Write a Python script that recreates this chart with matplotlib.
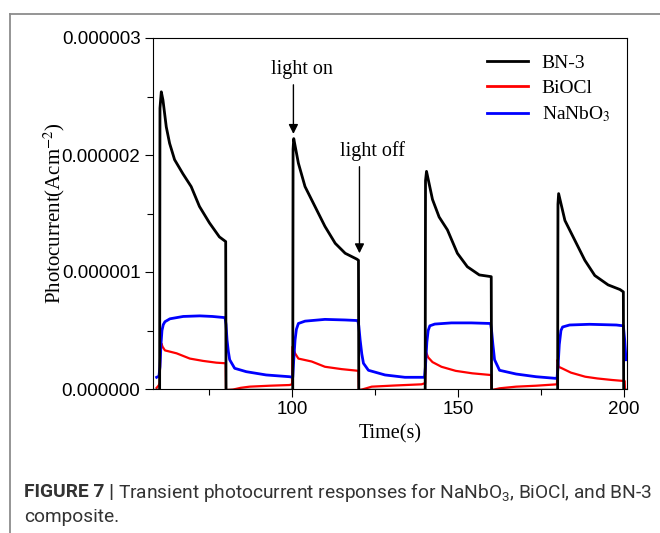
import matplotlib
matplotlib.use("Agg")
import matplotlib.pyplot as plt
from matplotlib.lines import Line2D
from matplotlib.ticker import MultipleLocator, FormatStrFormatter

# values, current in units of 1e-6 A/cm^2
bn3_t = [58.9, 60.1, 60.2, 60.6, 61.1, 62.1, 63.1, 64.6, 67.1, 69.6, 72.1, 75.1, 78.1, 80.0, 80.1,
         100.2, 100.3, 100.5, 101.9, 103.9, 106.9, 109.9, 113.0, 116.0, 119.5, 120.0, 120.1,
         140.1, 140.2, 140.5, 142.3, 144.3, 146.8, 149.8, 152.8, 156.4, 160.0, 160.1,
         180.0, 180.1, 180.3, 182.2, 185.2, 188.2, 191.2, 195.2, 198.8, 199.8, 199.9, 200.8]
bn3_i = [-0.01, -0.01, 2.40, 2.54, 2.47, 2.24, 2.10, 1.96, 1.84, 1.73, 1.56, 1.42, 1.30, 1.26, -0.01,
         -0.01, 2.05, 2.14, 1.93, 1.73, 1.56, 1.39, 1.245, 1.16, 1.11, 1.10, -0.01,
         -0.01, 1.78, 1.86, 1.62, 1.47, 1.36, 1.16, 1.045, 0.975, 0.96, -0.01,
         -0.01, 1.58, 1.67, 1.44, 1.27, 1.10, 0.97, 0.89, 0.85, 0.83, -0.01, -0.01]

biocl_t = [59.2, 59.8, 60.1, 60.3, 60.6, 61.0, 61.7, 65.2, 69.2, 73.2, 77.2, 80.0, 80.1,
           82.2, 84.5, 87.2, 93.2, 99.2, 100.0, 100.1, 100.9, 101.9, 105.9, 109.9, 114.9,
           119.4, 120.0, 120.1, 121.0, 124.0, 131.0, 139.0, 140.1, 140.3, 141.0, 142.3,
           145.0, 149.3, 154.3, 159.7, 160.0, 160.1, 162.5, 167.5, 173.5, 179.8, 180.0,
           180.3, 181.3, 184.0, 188.3, 192.0, 196.4, 200.2, 200.3]
biocl_i = [0.01, 0.03, 0.05, 0.30, 0.39, 0.36, 0.33, 0.305, 0.26, 0.24, 0.225, 0.22, -0.01,
           -0.005, 0.01, 0.02, 0.028, 0.034, 0.04, 0.36, 0.305, 0.26, 0.235, 0.19, 0.17,
           0.157, 0.155, -0.01, -0.005, 0.02, 0.03, 0.04, 0.05, 0.32, 0.27, 0.23,
           0.19, 0.155, 0.134, 0.12, 0.12, -0.01, 0.006, 0.02, 0.028, 0.04, 0.25,
           0.19, 0.177, 0.14, 0.105, 0.09, 0.077, 0.068, -0.01]

nanbo3_t = [59.2, 59.9, 60.2, 60.5, 60.8, 61.2, 61.7, 63.2, 67.2, 72.2, 76.0, 79.8, 80.1,
            80.4, 80.8, 81.2, 82.7, 86.2, 92.2, 99.2, 100.2, 100.5, 100.9, 101.3, 101.9,
            103.9, 109.9, 116.0, 119.8, 120.1, 120.5, 121.0, 121.5, 123.0, 128.0, 134.0,
            139.9, 140.2, 140.6, 141.0, 141.5, 143.0, 148.0, 154.0, 159.8, 160.1, 160.5,
            161.0, 162.5, 167.5, 173.5, 179.8, 180.1, 180.5, 181.0, 181.5, 183.6, 189.6,
            197.7, 199.8, 200.2, 200.6]
nanbo3_i = [0.10, 0.11, 0.19, 0.38, 0.50, 0.55, 0.575, 0.60, 0.62, 0.625, 0.62, 0.61, 0.55,
            0.42, 0.32, 0.25, 0.177, 0.148, 0.12, 0.105, 0.10, 0.25, 0.42, 0.51, 0.56,
            0.58, 0.595, 0.59, 0.585, 0.54, 0.42, 0.30, 0.22, 0.16, 0.12, 0.10,
            0.10, 0.20, 0.40, 0.50, 0.54, 0.555, 0.565, 0.565, 0.56, 0.50, 0.38,
            0.25, 0.16, 0.128, 0.105, 0.09, 0.18, 0.38, 0.50, 0.53, 0.547, 0.553,
            0.547, 0.54, 0.42, 0.25]

x_ticks = [100, 150, 200]

plt.rcParams["mathtext.fontset"] = "custom"
plt.rcParams["mathtext.rm"] = "Roboto"
plt.rcParams["mathtext.it"] = "Roboto:italic"
plt.rcParams["mathtext.bf"] = "Roboto:bold"

SERIF = "Liberation Serif"
SANS = "Liberation Sans"

fig = plt.figure(figsize=(6.6, 5.33), dpi=100)
ax = fig.add_axes([153 / 660, 1 - 389 / 533, 474 / 660, 351 / 533])

scale = 1e-6
ax.plot(biocl_t, [v * scale for v in biocl_i], color="#ff0000", lw=1.6, zorder=2)
ax.plot(nanbo3_t, [v * scale for v in nanbo3_i], color="#0000ff", lw=2.0, zorder=3)
ax.plot(bn3_t, [v * scale for v in bn3_i], color="black", lw=2.0, zorder=4)

ax.set_xlim(58.1, 200.9)
ax.set_ylim(0, 3e-6)
ax.set_xticks(x_ticks)
ax.xaxis.set_minor_locator(MultipleLocator(25))
ax.yaxis.set_major_locator(MultipleLocator(1e-6))
ax.yaxis.set_minor_locator(MultipleLocator(0.5e-6))
ax.yaxis.set_major_formatter(FormatStrFormatter("%.6f"))
ax.tick_params(which="major", direction="out", length=6, width=0.8, pad=3,
               labelsize=13.5, colors="black")
ax.tick_params(which="minor", direction="out", length=4, width=0.8)
for lab in ax.get_xticklabels() + ax.get_yticklabels():
    lab.set_fontfamily(SANS)
for sp in ax.spines.values():
    sp.set_linewidth(0.8)

ax.set_xlabel("Time(s)", fontfamily=SERIF, fontsize=14.5, labelpad=4)
ax.set_ylabel("Photocurrent(Acm$^{-2}$)", fontfamily=SERIF, fontsize=15,
              math_fontfamily="stix", labelpad=-4)

handles = [Line2D([], [], color="black", lw=2.0),
           Line2D([], [], color="#ff0000", lw=2.0),
           Line2D([], [], color="#0000ff", lw=2.0)]
ax.legend(handles, ["BN-3", "BiOCl", "NaNbO$_3$"], loc="upper right",
          bbox_to_anchor=(1.0, 1.0), frameon=False,
          prop={"family": SERIF, "size": 14, "math_fontfamily": "stix"},
          handlelength=2.1, handletextpad=0.7, labelspacing=0.38,
          borderaxespad=0.45)

ax.annotate("", xy=(100.4, 2.18e-6), xytext=(100.4, 2.60e-6),
            arrowprops=dict(arrowstyle="-|>", color="black", lw=1.0,
                            mutation_scale=14, shrinkA=0, shrinkB=0))
ax.text(102.9, 2.73e-6, "light on", fontfamily=SERIF, fontsize=14.5,
        ha="center", va="center")
ax.annotate("", xy=(120.3, 1.16e-6), xytext=(120.3, 1.90e-6),
            arrowprops=dict(arrowstyle="-|>", color="black", lw=1.0,
                            mutation_scale=14, shrinkA=0, shrinkB=0))
ax.text(124.2, 2.03e-6, "light off", fontfamily=SERIF, fontsize=14.5,
        ha="center", va="center")

# page frame around figure + caption
fig.add_artist(Line2D([10 / 660, 10 / 660], [0, 1 - 14 / 533], color="#8c8c8c",
                      lw=1.3, transform=fig.transFigure))
fig.add_artist(Line2D([10 / 660, 1.0], [1 - 14 / 533, 1 - 14 / 533], color="#8c8c8c",
                      lw=1.3, transform=fig.transFigure))

cap_size = 13.8
cap_y1 = 1 - 492 / 533
bold = fig.text(24 / 660, cap_y1, "FIGURE 7 |", fontfamily="Roboto", fontweight="bold",
                fontsize=cap_size, color="#333333", va="center")
fig.canvas.draw()
bb = bold.get_window_extent()
fig.text(bb.x1 / 660 + 4 / 660, cap_y1,
         "Transient photocurrent responses for NaNbO$_3$, BiOCl, and BN-3",
         fontfamily="Roboto", fontsize=cap_size, color="#333333", va="center",
         math_fontfamily="custom")
fig.text(24 / 660, 1 - 517 / 533, "composite.", fontfamily="Roboto", fontsize=cap_size,
         color="#333333", va="center")

fig.savefig("out.png", dpi=100)
